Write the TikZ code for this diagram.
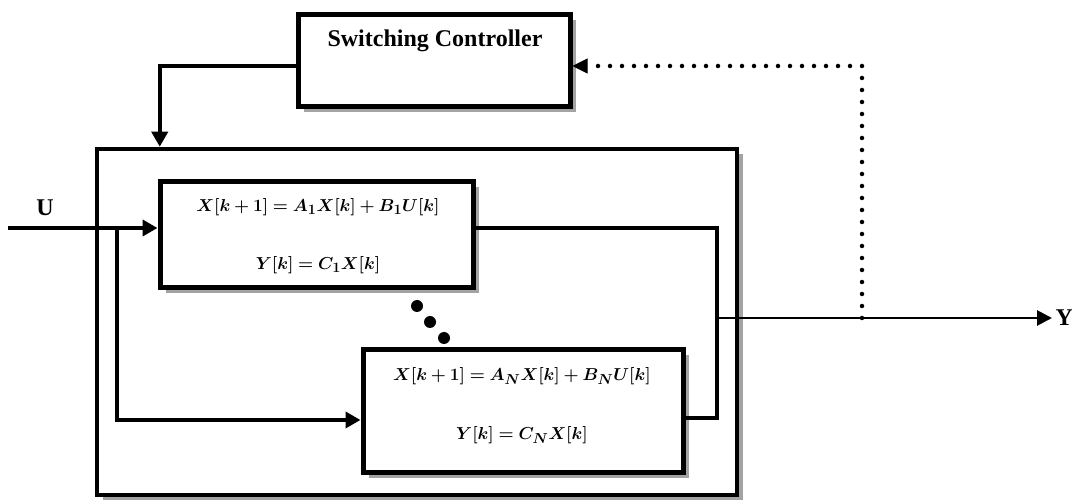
\documentclass[tikz,border=0pt]{standalone}
\usepackage[no-math]{fontspec}
\setmainfont{Liberation Serif}
\usepackage{amsmath}
\usepackage{bm}
\usetikzlibrary{arrows.meta,shadows,calc}

\tikzset{
  blk/.style={draw=black, fill=white, line width=5pt, rectangle, inner sep=0pt,
    drop shadow={shadow xshift=5.5pt, shadow yshift=-5.5pt, fill=black!45, opacity=0.8}},
  conn/.style={line width=4pt, draw=black},
  thin conn/.style={line width=2.8pt, draw=black},
  tip/.style={-{Triangle[length=15pt,width=16pt]}},
  dotline/.style={line width=4.5pt, line cap=round, dash pattern=on 0pt off 12pt},
  eq/.style={font=\fontsize{19}{22}\selectfont},
  lbl/.style={font=\fontsize{24}{27}\selectfont\bfseries},
  dot/.style={circle, fill=black, inner sep=0pt, minimum size=12pt}
}

\begin{document}
\begin{tikzpicture}[x=1pt, y=-1pt]
  \useasboundingbox (0,0) rectangle (1072,502);

  % switching controller
  \node[blk, minimum width=272pt, minimum height=92pt] (sc) at (434,61) {};
  \node[lbl, anchor=base] (sctext) at (435,47) {Switching Controller};

  % enclosing plant box
  \node[blk, line width=4.5pt, minimum width=640pt, minimum height=346pt] (plant) at (417,322) {};

  % first subsystem
  \node[blk, minimum width=313pt, minimum height=106pt] (sys1) at (316.5,235) {};
  \node[eq] (sys1a) at (318,207) {$\bm{X[k+1]=A_1X[k]+B_1U[k]}$};
  \node[eq] (sys1b) at (318,265) {$\bm{Y[k]=C_1X[k]}$};

  % N-th subsystem
  \node[blk, minimum width=320pt, minimum height=123pt] (sysN) at (523,411.5) {};
  \node[eq] (sysNa) at (522,376) {$\bm{X[k+1]=A_NX[k]+B_NU[k]}$};
  \node[eq] (sysNb) at (522,435) {$\bm{Y[k]=C_NX[k]}$};

  % ellipsis between the subsystems
  \node[dot] (d1) at (417,306) {};
  \node[dot] (d2) at (430,322) {};
  \node[dot] (d3) at (444,338) {};

  % input U
  \coordinate (uin) at (8,228);
  \coordinate (split) at (117,228);
  \node[lbl, anchor=base] (ulabel) at (45,216) {U};
  \draw[conn, tip] (uin) -- ($(sys1.west)+(0,-7)$);
  \draw[conn, line width=3.6pt, tip] (split) |- ($(sysN.west)+(0,8.5)$);

  % controller to plant
  \draw[conn, line width=4.5pt, tip] ($(sc.west)+(0,5)$) -| ($(plant.north west)+(65,0)$);

  % outputs merging into Y
  \coordinate (join) at (717,318);
  \draw[conn, line width=3.4pt] ($(sys1.east)+(0,-7)$) -| (join) |- ($(sysN.east)+(0,6.5)$);
  \node[lbl, anchor=west] (ylabel) at (1052,318) {Y};
  \draw[thin conn, -{Triangle[length=15pt,width=15pt]}] (join) -- (ylabel.west);

  % feedback of Y to the controller
  \coordinate (tap) at (862,318);
  \draw[dotline] (tap) -- (862,66) -- (590,66);
  \draw[line width=1pt, -{Triangle[length=15pt,width=15pt]}] (586,66) -- ($(sc.east)+(0,5)$);
\end{tikzpicture}
\end{document}
